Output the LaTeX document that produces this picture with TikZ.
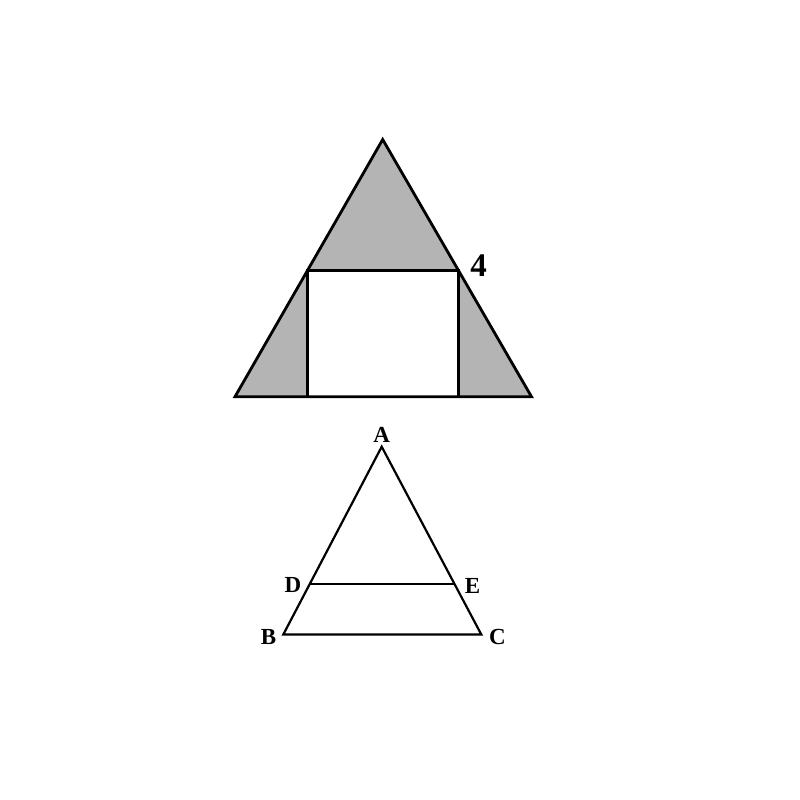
\documentclass[tikz,border=0pt]{standalone}
\usepackage{fontspec}
\setmainfont{Liberation Serif}
\begin{document}
\begin{tikzpicture}[x=1pt,y=-1pt,
  thickline/.style={line width=2.8pt,line join=miter},
  thinline/.style={line width=2.2pt,line join=miter},
  lbl/.style={font=\bfseries\fontsize{23}{23}\selectfont,inner sep=0pt},
  biglbl/.style={font=\bfseries\fontsize{33}{33}\selectfont,inner sep=0pt}]
\definecolor{fillgray}{RGB}{180,180,180}
\useasboundingbox (0,0) rectangle (800,800);
% top figure
\coordinate (T) at (382.7,139.5);
\coordinate (L) at (235,396.7);
\coordinate (R) at (531.5,396.7);
\coordinate (P1) at (307.7,270.7);
\coordinate (P2) at (458.7,270.7);
\coordinate (Q1) at (307.7,396.7);
\coordinate (Q2) at (458.7,396.7);
\fill[fillgray] (T) -- (L) -- (R) -- cycle;
\fill[white] (P1) rectangle (Q2);
\draw[thickline] (T) -- (L) -- (R) -- cycle;
\draw[thickline] (Q1) -- (P1) -- (P2) -- (Q2);
\node[biglbl] (four) at (478.5,266) {4};
% bottom figure
\coordinate (A) at (381.7,446.7);
\coordinate (B) at (283.3,634.5);
\coordinate (C) at (481.3,634.5);
\coordinate (D) at (310.3,584.3);
\coordinate (E) at (455,584.3);
\draw[thinline] (A) -- (B) -- (C) -- cycle;
\draw[thinline] (D) -- (E);
\node[lbl] (lA) at (381.7,434.5) {A};
\node[lbl] (lB) at (268.5,636.5) {B};
\node[lbl] (lC) at (497.5,636.5) {C};
\node[lbl] (lD) at (293,585) {D};
\node[lbl] (lE) at (472.5,586) {E};
\end{tikzpicture}
\end{document}
